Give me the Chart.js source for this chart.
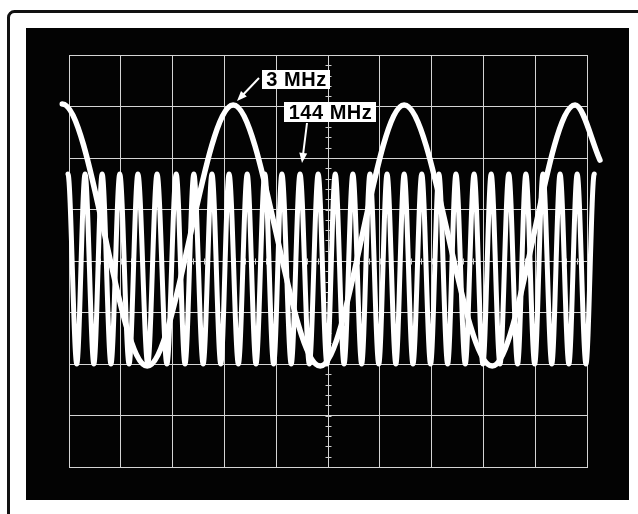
<!DOCTYPE html>
<html lang="en">
<head>
<meta charset="UTF-8">
<title>3 MHz and 144 MHz on the scope</title>
<script src="https://cdn.jsdelivr.net/npm/chart.js"></script>
<style>
  html, body { margin: 0; padding: 0; background: #fff; }
  canvas { display: block; }
</style>
</head>
<body>
<canvas id="scope" width="638" height="514"></canvas>
<script>
// everything in graticule divisions: x 0..10, y -4..4 (centre line = 0)

// 3 MHz trace: start hook, then peaks and troughs
const slowX = [-0.24, -0.13, 1.51, 3.17, 4.85, 6.47, 8.17, 9.77, 10.25];
const slowY = [2.93, 3.05, -2.04, 3.03, -2.04, 3.03, -2.04, 3.03, 1.96];

// 144 MHz trace: alternating troughs / peaks
const fastX = [-0.19, -0.02, 0.15, 0.31, 0.48, 0.64, 0.81, 0.98, 1.16, 1.33,
  1.52, 1.70, 1.89, 2.07, 2.24, 2.41, 2.59, 2.76, 2.93, 3.09,
  3.27, 3.44, 3.61, 3.78, 3.95, 4.11, 4.29, 4.46, 4.64, 4.81,
  4.98, 5.14, 5.31, 5.48, 5.65, 5.81, 5.98, 6.14, 6.31, 6.47,
  6.64, 6.81, 6.98, 7.14, 7.31, 7.47, 7.65, 7.82, 7.99, 8.15,
  8.32, 8.49, 8.66, 8.82, 8.99, 9.15, 9.32, 9.48, 9.65, 9.81,
  9.98, 10.14, 10.30];
const fastY = [-2.0, 1.69, -2.0, 1.69, -2.0, 1.69, -2.0, 1.69, -2.0, 1.69,
  -2.0, 1.69, -2.0, 1.69, -2.0, 1.69, -2.0, 1.69, -2.0, 1.69,
  -2.0, 1.69, -2.0, 1.69, -2.0, 1.69, -2.0, 1.69, -2.0, 1.69,
  -2.0, 1.69, -2.0, 1.69, -2.0, 1.69, -2.0, 1.69, -2.0, 1.69,
  -2.0, 1.69, -2.0, 1.69, -2.0, 1.69, -2.0, 1.69, -2.0, 1.69,
  -2.0, 1.69, -2.0, 1.69, -2.0, 1.69, -2.0, 1.69, -2.0, 1.69,
  -2.0, 1.69, -2.0];

const labels = [
  { text: '3 MHz',   box: [262, 70, 68, 19],  from: [259, 78],  to: [237, 101] },
  { text: '144 MHz', box: [284, 102, 92, 20], from: [307, 123], to: [302, 163] }
];

const trace = (xs, ys) => xs.map((x, i) => ({ x, y: ys[i] }));

const screenPlugin = {
  id: 'screen',
  beforeDraw(chart) {
    const ctx = chart.ctx;
    ctx.save();
    ctx.fillStyle = '#fff';
    ctx.fillRect(0, 0, chart.width, chart.height);
    // photo frame
    ctx.strokeStyle = '#111';
    ctx.lineWidth = 3;
    ctx.beginPath();
    ctx.roundRect(8.5, 11.5, 660, 540, 6);
    ctx.stroke();
    // crt face
    ctx.fillStyle = '#030303';
    ctx.fillRect(26, 28, 603, 472);
    ctx.restore();
  },
  beforeDatasetsDraw(chart) {
    // small ticks on the centre lines
    const { ctx, scales: { x, y } } = chart;
    ctx.save();
    ctx.strokeStyle = '#cfcfcf';
    ctx.lineWidth = 1;
    ctx.beginPath();
    const cx = Math.round(x.getPixelForValue(5)) + 0.5;
    const cy = Math.round(y.getPixelForValue(0)) + 0.5;
    for (let i = 0; i <= 50; i++) {
      const px = Math.round(x.getPixelForValue(i * 0.2)) + 0.5;
      ctx.moveTo(px, cy - 3); ctx.lineTo(px, cy + 3);
    }
    for (let i = 0; i <= 40; i++) {
      const py = Math.round(y.getPixelForValue(-4 + i * 0.2)) + 0.5;
      ctx.moveTo(cx - 3, py); ctx.lineTo(cx + 3, py);
    }
    ctx.stroke();
    ctx.restore();
  },
  afterDatasetsDraw(chart) {
    const ctx = chart.ctx;
    ctx.save();
    labels.forEach(l => {
      const [bx, by, bw, bh] = l.box;
      ctx.fillStyle = '#fff';
      ctx.fillRect(bx, by, bw, bh);
      ctx.fillStyle = '#000';
      ctx.font = 'bold 20px "Liberation Sans", Arial, sans-serif';
      ctx.letterSpacing = '0.5px';
      ctx.textAlign = 'center';
      ctx.textBaseline = 'middle';
      ctx.fillText(l.text, bx + bw / 2 + 0.5, by + bh / 2 + 1);
      // arrow
      const [x0, y0] = l.from, [x1, y1] = l.to;
      const a = Math.atan2(y1 - y0, x1 - x0);
      ctx.strokeStyle = '#fff';
      ctx.lineWidth = 2;
      ctx.beginPath();
      ctx.moveTo(x0, y0);
      ctx.lineTo(x1 - 7 * Math.cos(a), y1 - 7 * Math.sin(a));
      ctx.stroke();
      ctx.fillStyle = '#fff';
      ctx.beginPath();
      ctx.moveTo(x1, y1);
      ctx.lineTo(x1 - 10 * Math.cos(a) + 4 * Math.sin(a), y1 - 10 * Math.sin(a) - 4 * Math.cos(a));
      ctx.lineTo(x1 - 10 * Math.cos(a) - 4 * Math.sin(a), y1 - 10 * Math.sin(a) + 4 * Math.cos(a));
      ctx.closePath();
      ctx.fill();
    });
    ctx.restore();
  }
};

const lineStyle = {
  borderColor: '#fff',
  pointRadius: 0,
  fill: false,
  clip: false,
  cubicInterpolationMode: 'monotone',
  borderCapStyle: 'round',
  borderJoinStyle: 'round'
};

new Chart(document.getElementById('scope'), {
  type: 'line',
  data: {
    datasets: [
      { ...lineStyle, label: '144 MHz', data: trace(fastX, fastY), borderWidth: 5 },
      { ...lineStyle, label: '3 MHz', data: trace(slowX, slowY), borderWidth: 5.5 }
    ]
  },
  options: {
    responsive: false,
    animation: false,
    events: [],
    layout: { padding: { left: 69, top: 55, right: 51, bottom: 47 } },
    plugins: { legend: { display: false }, tooltip: { enabled: false } },
    scales: {
      x: {
        type: 'linear', min: 0, max: 10,
        ticks: { display: false, stepSize: 1 },
        grid: { color: '#d4d4d4', lineWidth: 1, drawTicks: false },
        border: { color: '#d4d4d4' }
      },
      y: {
        type: 'linear', min: -4, max: 4,
        ticks: { display: false, stepSize: 1 },
        grid: { color: '#d4d4d4', lineWidth: 1, drawTicks: false },
        border: { color: '#d4d4d4' }
      }
    }
  },
  plugins: [screenPlugin]
});
</script>
</body>
</html>
